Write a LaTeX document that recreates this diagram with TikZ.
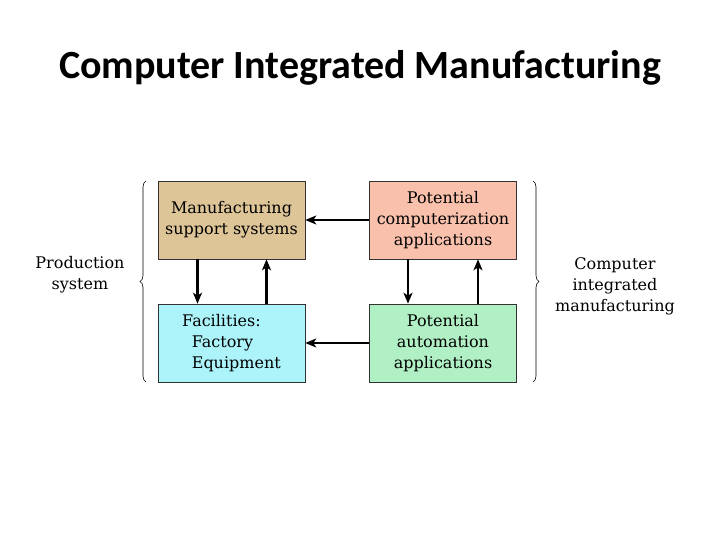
\documentclass[tikz,border=0pt]{standalone}
\usepackage{fontspec}
\setmainfont{DejaVu Serif}
\newfontfamily\titlefont{Carlito}
\usetikzlibrary{arrows.meta,decorations.pathreplacing}

\definecolor{tanbox}{RGB}{221,197,152}
\definecolor{salmonbox}{RGB}{249,192,172}
\definecolor{cyanbox}{RGB}{172,244,250}
\definecolor{greenbox}{RGB}{176,240,196}

\tikzset{
  block/.style={draw=black!80, line width=0.6pt, minimum width=147pt, minimum height=78pt,
    inner sep=2pt, font=\fontsize{16}{21}\selectfont, align=center},
  flow/.style={line width=2.4pt, -{Stealth[length=11pt,width=9pt,inset=3pt]}},
  side/.style={font=\fontsize{16}{21}\selectfont, align=center},
  brc/.style={line width=0.6pt, decorate, decoration={brace, amplitude=6pt}}
}

\begin{document}
\begin{tikzpicture}[x=1pt, y=-1pt]
  \useasboundingbox (0,0) rectangle (720,540);

  % Title
  \node (title) at (360,68) {\titlefont\bfseries\fontsize{40}{46}\selectfont Computer Integrated Manufacturing};

  % Blocks
  \node[block, fill=tanbox] (mss) at (231.5,220) {Manufacturing\\support systems};
  \node[block, fill=salmonbox] (pca) at (443,220) {Potential\\computerization\\applications};
  \node[block, fill=cyanbox, align=left] (fac) at (231.5,343) {Facilities:\\\hspace*{0.6em}Factory\\\hspace*{0.6em}Equipment};
  \node[block, fill=greenbox] (paa) at (443,343) {Potential\\automation\\applications};

  % Connectors
  \draw[flow] (pca.west) -- (mss.east);
  \draw[flow] (paa.west) -- (fac.east);
  \draw[flow] ([xshift=-34pt]mss.south) -- ([xshift=-34pt]fac.north);
  \draw[flow] ([xshift=35pt]fac.north) -- ([xshift=35pt]mss.south);
  \draw[flow] ([xshift=-35pt]pca.south) -- ([xshift=-35pt]paa.north);
  \draw[flow] ([xshift=35pt]paa.north) -- ([xshift=35pt]pca.south);

  % Braces
  \coordinate (lb) at (146,382);
  \coordinate (lt) at (146,181);
  \coordinate (rt) at (533,181);
  \coordinate (rb) at (533,382);
  \draw[brc] (lb) -- (lt);
  \draw[brc] (rt) -- (rb);

  % Side labels
  \node[side] (prod) at (80,275) {Production\\system};
  \node[side] (cim) at (615,286) {Computer\\integrated\\manufacturing};
\end{tikzpicture}
\end{document}
